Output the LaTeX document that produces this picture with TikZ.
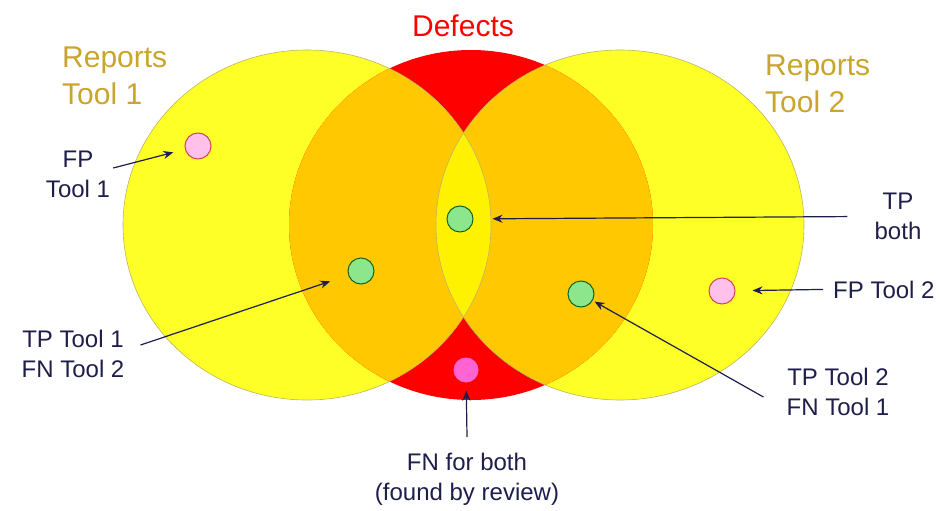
\documentclass[tikz,border=0pt]{standalone}
\usepackage{fontspec}
\setmainfont{Liberation Sans}
\usepackage{tikz}
\usetikzlibrary{arrows.meta,positioning,calc}
\definecolor{reportyellow}{RGB}{255, 255, 40}
\definecolor{overlaporange}{RGB}{255, 200, 0}
\definecolor{defectred}{RGB}{255, 0, 0}
\definecolor{lensyellow}{RGB}{255, 242, 0}
\definecolor{rimolive}{RGB}{190, 180, 100}
\definecolor{labelnavy}{RGB}{30, 30, 75}
\definecolor{reportgold}{RGB}{200, 165, 45}
\definecolor{dotpink}{RGB}{255, 192, 236}
\definecolor{dotpinkrim}{RGB}{210, 70, 90}
\definecolor{dotgreen}{RGB}{140, 230, 140}
\definecolor{dotgreenrim}{RGB}{20, 100, 30}
\definecolor{dotmagenta}{RGB}{255, 100, 210}

\begin{document}
\begin{tikzpicture}[x=1pt, y=-1pt,
  setbody/.style={x radius=184, y radius=175},
  hdr/.style={font=\fontsize{30}{37}\selectfont, align=left, inner sep=0pt},
  lbl/.style={text=labelnavy, font=\fontsize{24}{30}\selectfont, align=center, inner sep=0pt},
  fpdot/.style={circle, draw=dotpinkrim, fill=dotpink, line width=1pt, minimum size=26pt, inner sep=0pt},
  tpdot/.style={circle, draw=dotgreenrim, fill=dotgreen, line width=1pt, minimum size=26pt, inner sep=0pt},
  fndot/.style={circle, fill=dotmagenta, minimum size=25pt, inner sep=0pt},
  ptr/.style={-{Stealth[length=10pt,width=8pt]}, line width=1.2pt, color=labelnavy}
]
\useasboundingbox (0,0) rectangle (940,511);

% Set centres
\coordinate (tool1) at (307,225);
\coordinate (tool2) at (620,225);
\coordinate (defects) at (471,225);

% 1. Reports circles and Defects circle
\fill[reportyellow] (tool1) ellipse [setbody];
\fill[reportyellow] (tool2) ellipse [setbody];
\fill[defectred] (defects) ellipse [x radius=182, y radius=175];

% 2. Defects reported by a tool
\begin{scope}
  \clip (defects) ellipse [x radius=182, y radius=175];
  \fill[overlaporange] (tool1) ellipse [setbody];
  \fill[overlaporange] (tool2) ellipse [setbody];
\end{scope}

% 3. Reported by both tools
\begin{scope}
  \clip (tool1) ellipse [setbody];
  \fill[lensyellow] (tool2) ellipse [setbody];
\end{scope}
\draw[rimolive, line width=0.6pt] (tool1) ellipse [setbody];
\draw[rimolive, line width=0.6pt] (tool2) ellipse [setbody];

% Set titles
\node[hdr, text=reportgold, anchor=north west] (rep1) at (62,47) {Reports\\Tool 1};
\node[hdr, text=reportgold, anchor=north west] (rep2) at (765,55) {Reports\\Tool 2};
\node[hdr, text=defectred, anchor=north] (deftitle) at (463,15) {Defects};

% Findings
\node[fpdot] (fp1) at (198,146) {};
\node[tpdot] (tp1) at (361,271) {};
\node[tpdot] (tpboth) at (460,219) {};
\node[tpdot] (tp2) at (581,294) {};
\node[fpdot] (fp2) at (722,291) {};
\node[fndot] (fnboth) at (466,370) {};

% Labels and pointers
\node[lbl, anchor=north] (fp1lbl) at (78,151) {FP\\Tool 1};
\draw[ptr, shorten >=12pt] ($(fp1lbl.north east)+(3,17)$) -- (fp1);

\node[lbl, anchor=north] (tp1lbl) at (73,330) {TP Tool 1\\FN Tool 2};
\draw[ptr, shorten >=19pt] ($(tp1lbl.north east)+(16,15)$) -- (tp1);

\node[lbl, anchor=north] (tpbothlbl) at (898,193) {TP\\both};
\draw[ptr, shorten >=19pt] ($(tpbothlbl.west)+(-27,0)$) -- (tpboth);

\node[lbl, anchor=base west] (fp2lbl) at (833,298) {FP Tool 2};
\draw[ptr, shorten >=17pt] ($(fp2lbl.west)+(-10,0)$) -- (fp2);

\node[lbl, anchor=north] (tp2lbl) at (838,368) {TP Tool 2\\FN Tool 1};
\draw[ptr, shorten >=2pt] ($(tp2lbl.west)+(-23,5)$) -- (tp2);

\node[lbl, anchor=north] (fnlbl) at (467,453) {FN for both\\(found by review)};
\draw[ptr, shorten >=8pt] ($(fnlbl.north)+(0,-16)$) -- (fnboth);

\end{tikzpicture}
\end{document}
